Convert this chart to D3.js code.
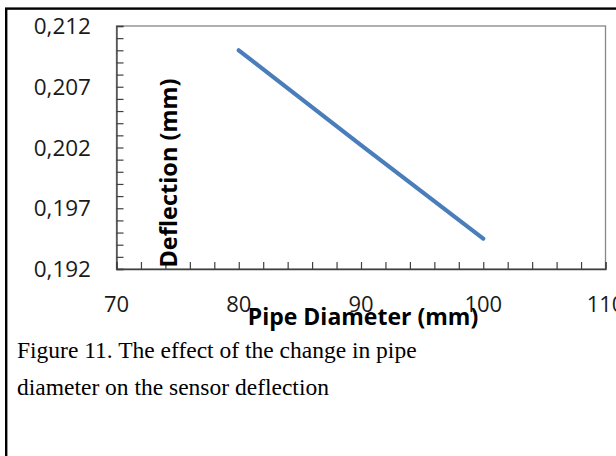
<!DOCTYPE html>
<html>
<head>
<meta charset="utf-8">
<script src="https://cdn.jsdelivr.net/npm/d3@7"></script>
<style>
  html, body { margin: 0; padding: 0; background: #fff; }
  svg { display: block; }
</style>
</head>
<body>
<svg id="chart" width="616" height="456"></svg>
<script>
// ---- data ----
const diameters = [80, 90, 100];              // Pipe Diameter (mm)
const deflections = [0.2100, 0.2022, 0.1945]; // Deflection (mm)
const xMajorTicks = [70, 80, 90, 100, 110];
const yMajorTicks = [0.192, 0.197, 0.202, 0.207, 0.212];
const xTitle = "Pipe Diameter (mm)";
const yTitle = "Deflection (mm)";
const captionLines = [
  "Figure 11. The effect of the change in pipe",
  "diameter on the sensor deflection"
];

// ---- layout ----
const svg = d3.select("#chart");
const plot = { left: 116.5, top: 26, right: 605.5, bottom: 269 };

const x = d3.scaleLinear().domain([70, 110]).range([plot.left, plot.right]);
const y = d3.scaleLinear().domain([0.192, 0.212]).range([plot.bottom, plot.top]);

const locale = d3.formatLocale({ decimal: ",", thousands: ".", grouping: [3], currency: ["", ""] });
const yFmt = locale.format(".3f");

// outer frame
svg.append("rect")
  .attr("x", 6.2).attr("y", 8.6)
  .attr("width", 700).attr("height", 600)
  .attr("fill", "none").attr("stroke", "#000").attr("stroke-width", 2.4);

// plot area border
svg.append("rect")
  .attr("x", plot.left).attr("y", plot.top)
  .attr("width", plot.right - plot.left).attr("height", plot.bottom - plot.top)
  .attr("fill", "none").attr("stroke", "#868686").attr("stroke-width", 1.3);

// minor tick values
const xMinor = d3.range(70, 110.001, 2);
const yMinor = d3.range(0, 21).map(i => 0.192 + i * 0.001);

// y axis (ticks pointing inward)
const yAxis = d3.axisRight(y).tickValues(yMinor).tickSize(7).tickFormat("");
const gy = svg.append("g").attr("transform", `translate(${plot.left},0)`).call(yAxis);
gy.select(".domain").attr("stroke", "#404040").attr("stroke-width", 1.3);
gy.selectAll(".tick line").attr("stroke", "#404040").attr("stroke-width", 1.2);

// x axis (ticks pointing inward)
const xAxis = d3.axisTop(x).tickValues(xMinor).tickSize(7).tickFormat("");
const gx = svg.append("g").attr("transform", `translate(0,${plot.bottom})`).call(xAxis);
gx.select(".domain").attr("stroke", "#404040").attr("stroke-width", 1.3);
gx.selectAll(".tick line").attr("stroke", "#404040").attr("stroke-width", 1.2);

// tick labels
const labelFont = "'Open Sans', 'DejaVu Sans', sans-serif";
svg.append("g").selectAll("text").data(yMajorTicks).join("text")
  .attr("x", 91).attr("y", d => y(d))
  .attr("dy", "0.36em")
  .attr("text-anchor", "end")
  .attr("font-family", labelFont).attr("font-size", 22.5)
  .attr("fill", "#1a1a1a")
  .text(d => yFmt(d));

svg.append("g").selectAll("text").data(xMajorTicks).join("text")
  .attr("x", d => x(d)).attr("y", 312)
  .attr("text-anchor", "middle")
  .attr("font-family", labelFont).attr("font-size", 22)
  .attr("fill", "#1a1a1a")
  .text(d => d);

// data line
const line = d3.line().x((d, i) => x(diameters[i])).y(d => y(d));
svg.append("path")
  .datum(deflections)
  .attr("d", line)
  .attr("fill", "none")
  .attr("stroke", "#4a7ebb")
  .attr("stroke-width", 4.2)
  .attr("stroke-linecap", "round")
  .attr("stroke-linejoin", "round");

// axis titles
svg.append("text")
  .attr("x", (plot.left + plot.right) / 2 + 2).attr("y", 325)
  .attr("text-anchor", "middle")
  .attr("font-family", labelFont).attr("font-weight", "bold").attr("font-size", 23)
  .attr("fill", "#000")
  .text(xTitle);

svg.append("text")
  .attr("transform", `translate(177,173) rotate(-90)`)
  .attr("text-anchor", "middle")
  .attr("font-family", labelFont).attr("font-weight", "bold").attr("font-size", 23.5)
  .attr("fill", "#000")
  .text(yTitle);

// caption
svg.append("g").selectAll("text").data(captionLines).join("text")
  .attr("x", 17).attr("y", (d, i) => 358 + i * 37)
  .attr("font-family", "'Liberation Serif', 'Times New Roman', serif")
  .attr("font-size", 23.5)
  .attr("fill", "#000")
  .text(d => d);
</script>
</body>
</html>
